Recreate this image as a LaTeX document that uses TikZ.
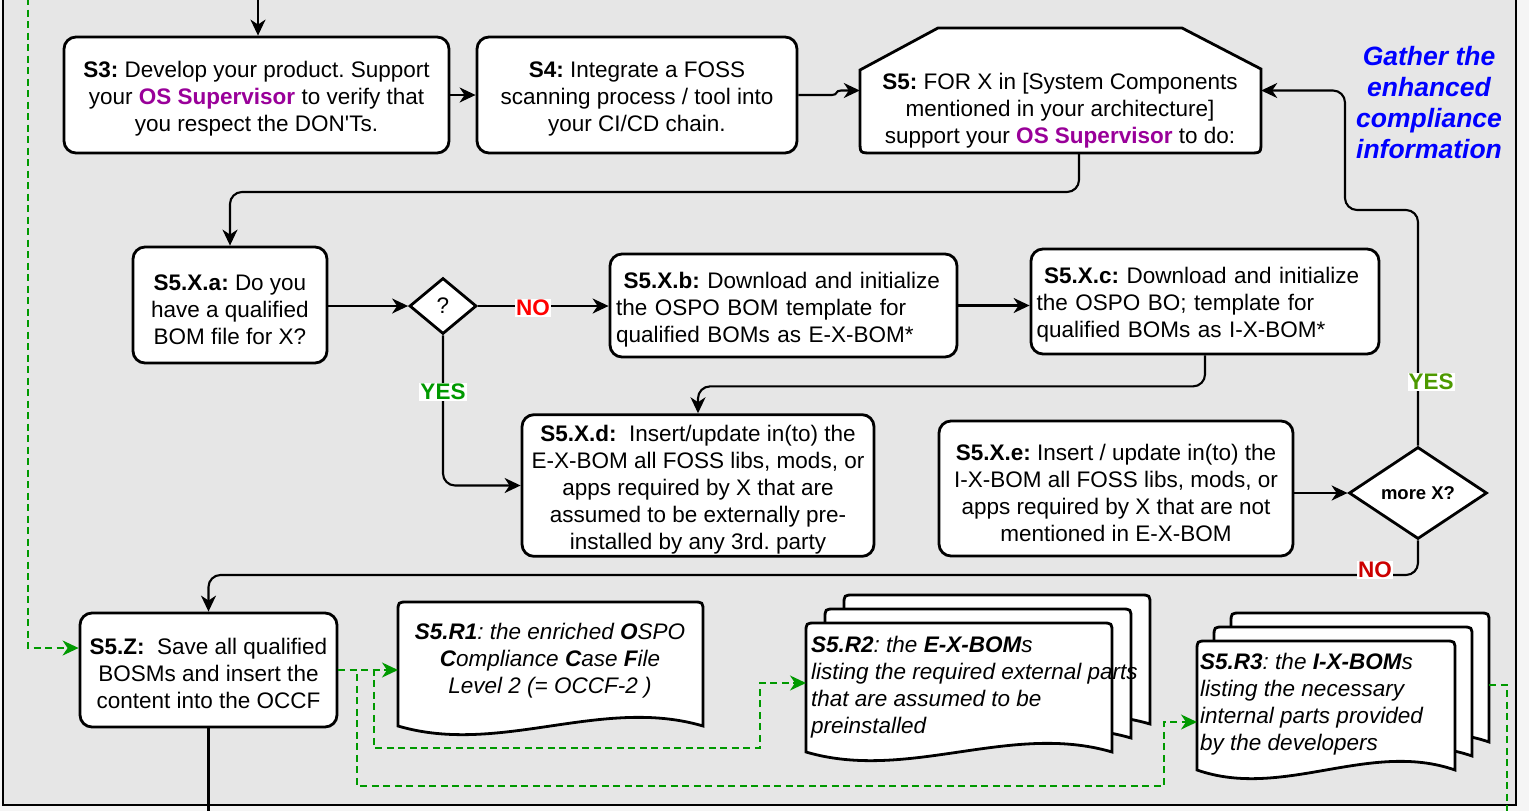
\documentclass[tikz,border=0pt]{standalone}
\usepackage{fontspec}
\setmainfont{Liberation Sans}
\usetikzlibrary{arrows.meta,shapes.geometric,calc}
\definecolor{bggrey}{HTML}{E6E6E6}
\definecolor{outerc}{HTML}{F5F5F5}
\definecolor{osv}{HTML}{990099}
\definecolor{greenln}{HTML}{009900}
\definecolor{yesone}{HTML}{009900}
\definecolor{yestwo}{HTML}{4D9900}
\definecolor{noone}{HTML}{FF0000}
\definecolor{notwo}{HTML}{CC0000}
\definecolor{gblue}{HTML}{0000FF}
\frenchspacing
\newcommand{\osv}{\textcolor{osv}{\textbf{OS Supervisor}}}
\newcommand{\st}{\rule{0pt}{23pt}}
\newcommand{\stt}{\rule{0pt}{25pt}}
\newcommand{\docshape}[4]{%
  \filldraw[docline] (#1,#4) -- (#1,{#2+10}) .. controls (#1,#2) .. ({#1+10},#2) -- ({#3-10},#2) .. controls (#3,#2) .. (#3,{#2+10}) -- (#3,#4) .. controls ({#3-(#3-#1)/3},{#4-30}) and ({#1+(#3-#1)/3},{#4+30}) .. (#1,#4) -- cycle;}
\begin{document}
\begin{tikzpicture}[x=1pt,y=-1pt,
  font=\fontsize{22.5}{27}\selectfont,
  box/.style={draw, line width=2.8pt, fill=white, rounded corners=12pt, inner sep=2pt, align=center},
  docline/.style={draw=black, line width=2.8pt, fill=white},
  doctext/.style={inner sep=1pt, font=\fontsize{22.5}{27}\selectfont\itshape},
  conn/.style={line width=2.1pt},
  arr/.style={conn, -{Stealth[length=16pt,width=15pt,inset=5pt]}},
  gdash/.style={line width=1.9pt, draw=greenln, dash pattern=on 7pt off 4.5pt},
  garr/.style={gdash, -{Stealth[length=16pt,width=15pt,inset=5pt,fill=greenln]}},
  dec/.style={draw, diamond, line width=2.8pt, fill=white, inner sep=0pt},
  lab/.style={fill=white, inner sep=1pt, font=\fontsize{22.5}{27}\selectfont\bfseries},
  gather/.style={align=center, text=gblue, font=\fontsize{26.5}{31}\selectfont\bfseries\itshape},
]
\useasboundingbox (0,0) rectangle (1529,811);
\fill[outerc] (0,0) rectangle (1529,811);
\filldraw[fill=bggrey, draw=black, line width=1.5pt] (3,-10) rectangle (1516,805);

% boxes
\node[box, minimum width=385pt, minimum height=116pt] (S3) at (256.5,95) {\st\textbf{S3:} Develop your product. Support\\your \osv{} to verify that\\you respect the DON\textquotesingle Ts.};
\node[box, minimum width=320pt, minimum height=116pt] (S4) at (637,95) {\st\textbf{S4:} Integrate a FOSS\\scanning process / tool into\\your CI/CD chain.};
\node[minimum width=401pt, minimum height=125pt, inner sep=0pt] (S5) at (1060.5,90.5) {};
\filldraw[docline] (860,70) -- (938,28) -- (1182,28) -- (1261,69) -- (1261,141) .. controls (1261,153) .. (1249,153) -- (872,153) .. controls (860,153) .. (860,141) -- cycle;
\node[align=center] (S5t) at (1060,110.5) {\textbf{S5:} FOR X in [System Components\\mentioned in your architecture]\\support your \osv{} to do:};
\node[gather] (gath) at (1429,103) {Gather the\\enhanced\\compliance\\information};

\node[box, minimum width=194pt, minimum height=116pt] (S5Xa) at (230,305) {\stt\textbf{S5.X.a:} Do you\\have a qualified\\BOM file for X?};
\node[dec, minimum width=67pt, minimum height=56pt] (q) at (443,306) {?};
\node[box, align=left, text width=335pt, minimum width=347pt, minimum height=103pt] (S5Xb) at (783.5,305.5) {\stt\ \textbf{S5.X.b:} Download and initialize\\the OSPO BOM template for\\qualified BOMs as E-X-BOM*};
\node[box, align=left, text width=337pt, minimum width=348pt, minimum height=105pt] (S5Xc) at (1205,301.5) {\st\ \textbf{S5.X.c:} Download and initialize\\the OSPO BO; template for\\qualified BOMs as I-X-BOM*};
\node[box, minimum width=352pt, minimum height=141pt] (S5Xd) at (698,485.5) {\stt\textbf{S5.X.d:}\ \ Insert/update in(to) the\\E-X-BOM all FOSS libs, mods, or\\apps required by X that are\\assumed to be externally pre-\\installed by any 3rd. party};
\node[box, minimum width=354pt, minimum height=135pt] (S5Xe) at (1116,488.5) {\stt\textbf{S5.X.e:} Insert / update in(to) the\\I-X-BOM all FOSS libs, mods, or\\apps required by X that are not\\mentioned in E-X-BOM};
\node[dec, minimum width=138pt, minimum height=92pt, font=\fontsize{18.5}{22}\selectfont\bfseries] (mx) at (1418,493) {more X?};
\node[box, minimum width=257pt, minimum height=114pt] (S5Z) at (208.5,670) {\st\textbf{S5.Z:}\ \ Save all qualified\\BOSMs and insert the\\content into the OCCF};

% documents
\docshape{398}{602}{703}{726}
\docshape{844}{595}{1150}{724}
\docshape{825}{609}{1131}{738}
\docshape{806}{623}{1112}{752}
\docshape{1231}{613}{1489}{742}
\docshape{1214}{627}{1472}{756}
\docshape{1197}{641}{1455}{770}
\node[inner sep=0pt, minimum width=305pt, minimum height=133pt, anchor=north west] (R1) at (398,602) {};
\node[inner sep=0pt, minimum width=344pt, minimum height=168pt, anchor=north west] (R2) at (806,595) {};
\node[inner sep=0pt, minimum width=292pt, minimum height=169pt, anchor=north west] (R3) at (1197,613) {};
\node[doctext, align=center] (R1t) at (550,661) {\textbf{S5.R1}: the enriched \textbf{O}SPO\\\textbf{C}ompliance \textbf{C}ase \textbf{F}ile\\Level 2 (= OCCF-2 )};
\node[doctext, align=left, anchor=west] (R2t) at (810,687) {\textbf{S5.R2}: the \textbf{E-X-BOM}s\\listing the required external parts\\that are assumed to be\\preinstalled};
\node[doctext, align=left, anchor=west] (R3t) at (1199,704) {\textbf{S5.R3}: the \textbf{I-X-BOM}s\\listing the necessary\\internal parts provided\\by the developers};

% connectors
\coordinate (topin) at (258,-2);
\draw[arr] (topin) -- (topin |- S3.north);
\draw[arr] (S3.east) -- (S4.west);
\draw[arr] (S4.east) -- (832,95) .. controls (838,95) and (835,90.5) .. (841,90.5) -- (S5.west);
\coordinate (c1) at (1079,192);
\draw[arr, rounded corners=12pt] (c1 |- S5.south) -- (c1) -- (c1 -| S5Xa.north) -- (S5Xa.north);
\draw[arr] (q.west -| S5Xa.east) -- (q.west);
\draw[arr] (q.east) -- (q.east -| S5Xb.west);
\draw[arr, rounded corners=12pt] (q.south) |- (S5Xd.west);
\draw[arr] (S5Xb.east) -- (S5Xb.east -| S5Xc.west);
\draw[arr, rounded corners=12pt] (S5Xc.south) -- ++(0,31) -| (S5Xd.north);
\draw[arr] (S5Xe.east |- mx.west) -- (mx.west);
\coordinate (y1) at (1345,210);
\draw[arr, rounded corners=12pt] (mx.north) |- (y1) -- (y1 |- S5.east) -- (S5.east);
\coordinate (n1) at (0,575);
\draw[arr, rounded corners=12pt] (mx.south) |- (S5Z.north |- n1) -- (S5Z.north);
\coordinate (bot) at (0,815);
\draw[conn] (S5Z.south) -- (S5Z.south |- bot);

% green dashed
\coordinate (gtop) at (28,-2);
\coordinate (gz) at (0,648);
\draw[garr] (gtop) |- (S5Z.west |- gz);
\draw[garr] (S5Z.east) -- (S5Z.east -| R1.west);
\coordinate (ga) at (374,748);
\coordinate (gb) at (760,683);
\draw[garr] (S5Z.east) -| (ga) -| (gb) -- (gb -| R2.west);
\coordinate (gc) at (357,786);
\coordinate (gd) at (1164,722);
\draw[garr] (S5Z.east) -| (gc) -| (gd) -- (gd -| R3.west);
\coordinate (ge) at (1507,685);
\coordinate (gf) at (1507,815);
\draw[gdash] (ge -| R3.east) -- (ge) -- (gf);

% labels
\node[lab, text=noone] at (533,308) {NO};
\node[lab, text=yesone] at (443,392) {YES};
\node[lab, text=yestwo] at (1431,382) {YES};
\node[lab, text=notwo] at (1375,570) {NO};
\end{tikzpicture}
\end{document}
